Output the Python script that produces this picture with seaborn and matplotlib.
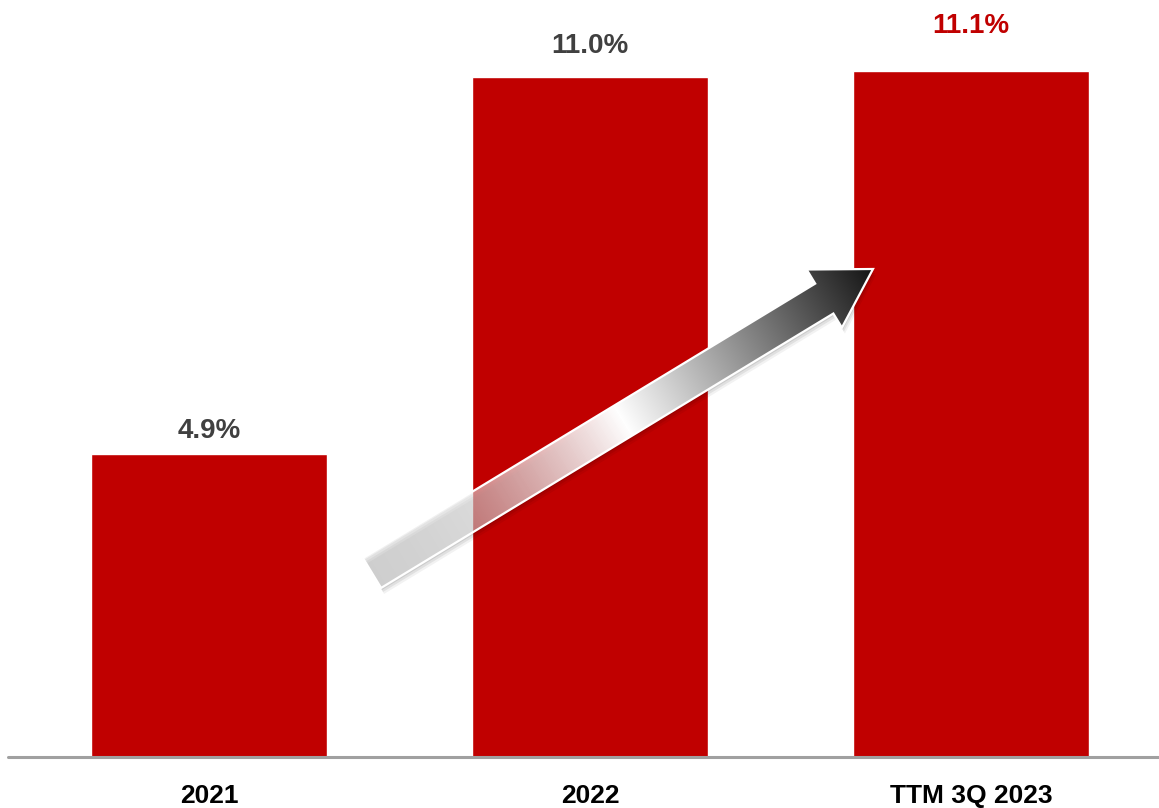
import numpy as np
import pandas as pd
import seaborn as sns
import matplotlib.pyplot as plt
from matplotlib.patches import Polygon

# ----------- Data ---------------------

periods = ["2021", "2022", "TTM 3Q 2023"]
margin_pct = [4.9, 11.0, 11.1]
label_colors = ["#404040", "#404040", "#C00000"]

df = pd.DataFrame({"period": periods, "margin": margin_pct})

# ----------- Style ---------------------

sns.set_style("white")
plt.rcParams['font.family'] = ['Liberation Sans', 'DejaVu Sans']
plt.rcParams['font.weight'] = 'bold'

W, H = 1159, 808
fig = plt.figure(figsize=(W / 100, H / 100), dpi=100)
ax = fig.add_axes([0, 51 / H, 1, 757 / H])

# ----------- Bars ---------------------

sns.barplot(data=df, x="period", y="margin", color="#C00000", saturation=1,
            width=0.62, ax=ax)

ax.set_xlim(-209 / 381, (W - 209) / 381)
ax.set_ylim(0, 757 / 61.8)

label_pads = [7, 13, 23]
for i, row in df.iterrows():
    ax.annotate("{:.1f}%".format(row.margin), (i, row.margin),
                xytext=(0, label_pads[i]), textcoords="offset points",
                ha="center", va="bottom", fontsize=20, fontweight="bold",
                color=label_colors[i])

for s in ax.spines.values():
    s.set_visible(False)
ax.axhline(0, xmin=8 / W, xmax=1, color="#a0a0a0", lw=2.2, clip_on=False)
ax.set_yticks([])
ax.set_xlabel("")
ax.set_ylabel("")
ax.tick_params(axis="x", length=0, pad=19.5, labelsize=19, labelcolor="black")
for t in ax.get_xticklabels():
    t.set_fontweight("bold")

# ----------- Trend arrow (decoration, pixel coords) ---------------------

ov = fig.add_axes([0, 0, 1, 1], zorder=5)
ov.set_xlim(0, W)
ov.set_ylim(0, H)
ov.axis("off")
ov.patch.set_alpha(0)

tail = np.array([372.0, H - 573.0])
tip = np.array([873.0, H - 269.0])
d = tip - tail
L = np.hypot(*d)
u = d / L
n = np.array([-u[1], u[0]])
shaft_w, head_w, head_len = 35, 68, 57
base = tip - u * head_len
pts = np.array([
    tail + n * shaft_w / 2,
    base + n * shaft_w / 2,
    base + n * head_w / 2,
    tip,
    base - n * head_w / 2,
    base - n * shaft_w / 2,
    tail - n * shaft_w / 2,
])

# soft shadow
for k, a in [(6, 0.05), (4, 0.07), (2, 0.09)]:
    sh = Polygon(pts + np.array([k * 0.5, -k]), closed=True, fc="black",
                 ec="none", alpha=a, zorder=1)
    ov.add_patch(sh)

# gradient along arrow axis
gx, gy = np.meshgrid(np.linspace(0, W, W), np.linspace(0, H, H))
t = ((gx - tail[0]) * u[0] + (gy - tail[1]) * u[1]) / L
t = np.clip(t, 0, 1)
grey = np.where(t < 0.5, 0.84 + 0.16 * (t / 0.5), 1.0 - 0.92 * ((t - 0.5) / 0.5))
alpha = np.where(t < 0.5, 0.35 + 0.65 * (t / 0.5) ** 1.3, 1.0)
img = np.dstack([grey, grey, grey, alpha])
im = ov.imshow(img, extent=(0, W, 0, H), origin="lower", aspect="auto",
               interpolation="bilinear", zorder=2)
clip = Polygon(pts, closed=True, fc="none", ec="white", lw=1.6, zorder=3)
ov.add_patch(clip)
im.set_clip_path(clip)

fig.savefig("out.png", dpi=100)
